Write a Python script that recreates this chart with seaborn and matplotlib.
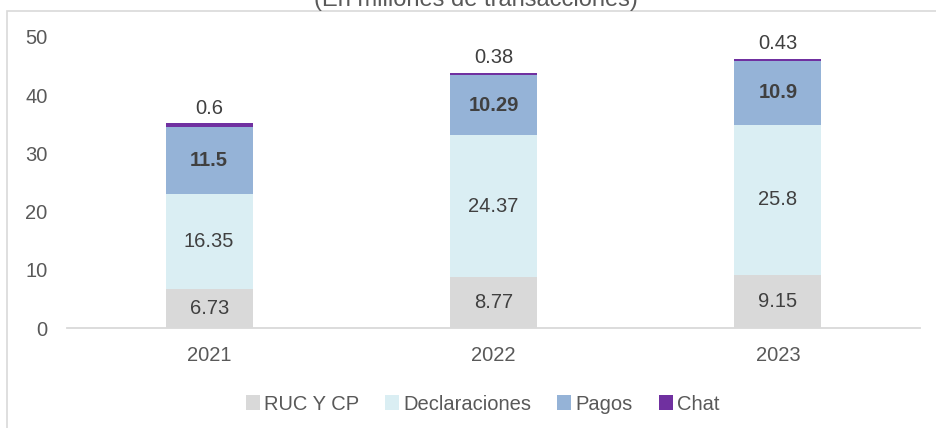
import matplotlib
matplotlib.use("Agg")
import matplotlib.pyplot as plt
from matplotlib.patches import Patch, Rectangle
import seaborn as sns
import numpy as np

# Datos (en millones de transacciones)
years = ["2021", "2022", "2023"]
ruc_cp = [6.73, 8.77, 9.15]
declaraciones = [16.35, 24.37, 25.8]
pagos = [11.5, 10.29, 10.9]
chat = [0.6, 0.38, 0.43]

series_names = ["RUC Y CP", "Declaraciones", "Pagos", "Chat"]
series_vals = [ruc_cp, declaraciones, pagos, chat]
colors = ["#d9d9d9", "#daeef3", "#95b3d7", "#7030a0"]

sns.set_theme(style="white")
plt.rcParams["font.family"] = ["Liberation Sans", "DejaVu Sans"]

fig = plt.figure(figsize=(9.37, 4.28), dpi=100)
ax = fig.add_axes([0.0715, 0.2336, 0.9105, 0.68])

bottom = np.zeros(len(years))
for name, vals, col in zip(series_names, series_vals, colors):
    sns.barplot(x=years, y=vals, bottom=bottom, color=col, width=0.306,
                ax=ax, linewidth=0, saturation=1)
    bottom = bottom + np.array(vals)

# Etiquetas de datos
for i, cont in enumerate(ax.containers):
    vals = series_vals[i]
    labels = [f"{v:g}" for v in vals]
    if i == 3:
        ax.bar_label(cont, labels=labels, padding=4, fontsize=14.5, color="#404040")
    else:
        ax.bar_label(cont, labels=labels, label_type="center", fontsize=14.5,
                     color="#404040", fontweight="bold" if i == 2 else "normal")

ax.set_ylim(0, 50)
ax.set_yticks([0, 10, 20, 30, 40, 50])
ax.set_xlim(-0.5, 2.5)
for s in ["top", "right", "left"]:
    ax.spines[s].set_visible(False)
ax.spines["bottom"].set_color("#d9d9d9")
ax.spines["bottom"].set_linewidth(1.3)
ax.tick_params(axis="y", length=0, pad=14, labelsize=14.5, labelcolor="#595959")
ax.tick_params(axis="x", length=0, pad=13, labelsize=14.5, labelcolor="#595959")
ax.set_xlabel("")
ax.set_ylabel("")

# Leyenda
handles = [Patch(facecolor=c, edgecolor="none") for c in colors]
fig.legend(handles, series_names, loc="center", bbox_to_anchor=(0.515, 0.056),
           ncol=4, frameon=False, fontsize=14.5, handlelength=0.7, handleheight=0.7,
           handletextpad=0.2, columnspacing=1.3, labelcolor="#595959")

# Marco y titulo (recortado arriba, como en la imagen original)
fig.patches.append(Rectangle((7 / 937, -0.1), 1.1, 0.975 + 0.1, transform=fig.transFigure,
                             fill=False, edgecolor="#d9d9d9", linewidth=1.2))
fig.text(0.508, 0.985, "(En millones de transacciones)", ha="center", va="baseline",
         fontsize=17, color="#595959")

fig.savefig("out.png", dpi=100)
